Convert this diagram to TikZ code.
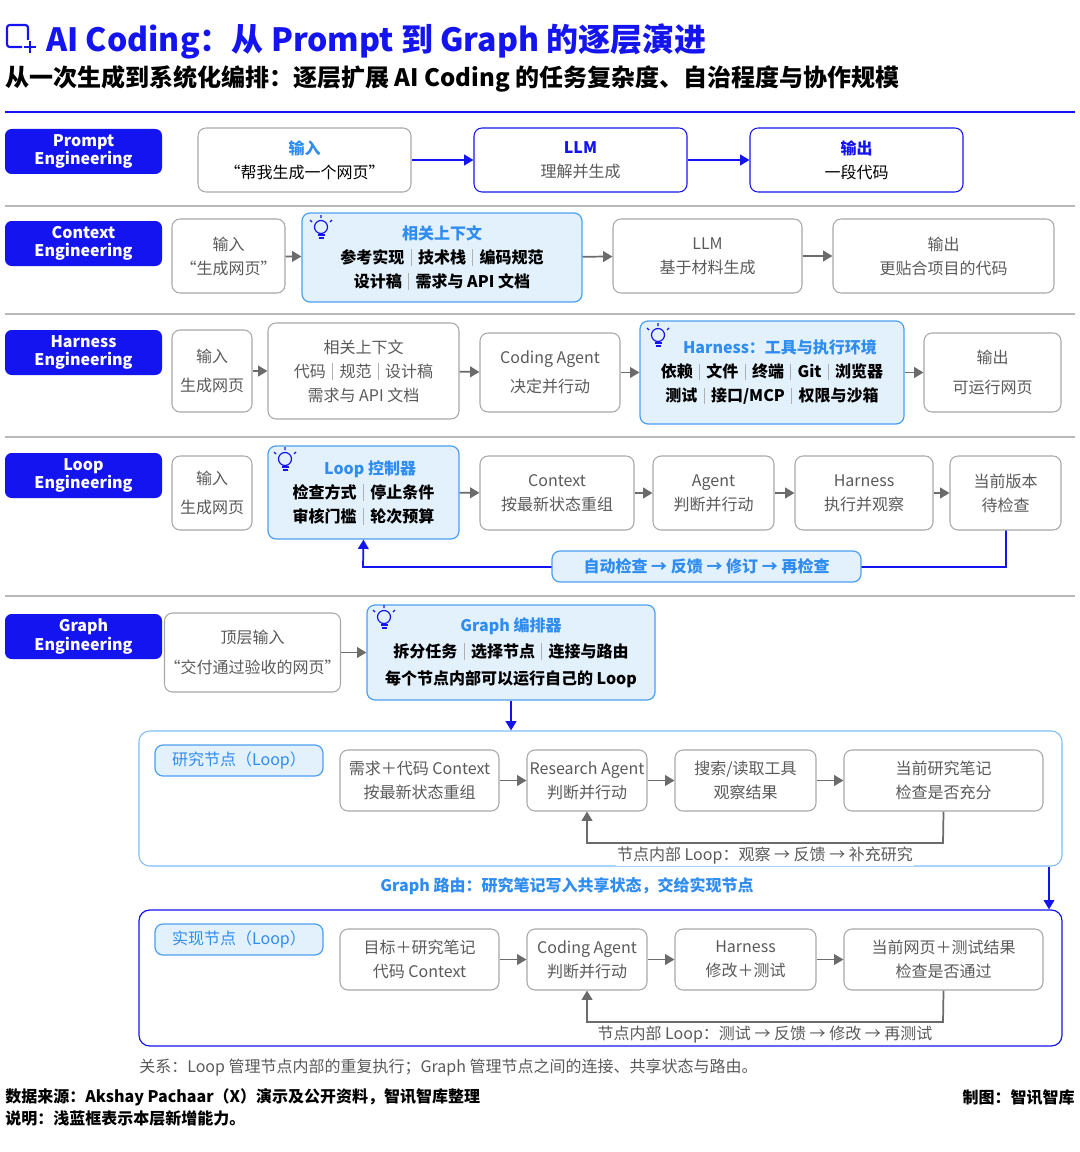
\documentclass[tikz,border=0pt]{standalone}
\usepackage{fontspec}
\setmainfont{Noto Sans CJK SC}
\usetikzlibrary{arrows.meta}
\definecolor{tblue}{HTML}{1414F0}
\definecolor{lblue}{HTML}{2F8CF0}
\definecolor{lfill}{HTML}{E3F1FD}
\definecolor{lbord}{HTML}{4A9FF2}
\definecolor{gbord}{HTML}{A8A8A8}
\definecolor{gtext}{HTML}{5A5A5A}
\definecolor{sepc}{HTML}{B0B0B0}
\newcommand{\sepbar}{\hspace{0.4em}{\color{sepc}\rule[-0.15em]{0.6pt}{1.05em}}\hspace{0.4em}}
\newcommand{\fs}[1]{\fontsize{#1pt}{\fpeval{#1*1.5}pt}\selectfont}
\tikzset{
 mw/.style={minimum width=#1*0.75pt},
 mh/.style={minimum height=#1*0.75pt},
 lab/.style={fill=tblue,rounded corners=5pt,text=white,align=center,font=\fs{12}\bfseries,inner sep=0pt,mw=157,mh=45},
 gbox/.style={draw=gbord,line width=0.8pt,rounded corners=6pt,fill=white,align=center,text=gtext,font=\fs{12},inner sep=0pt},
 wbox/.style={draw=tblue,line width=0.8pt,rounded corners=6pt,fill=white,align=center,text=gtext,font=\fs{12},inner sep=0pt},
 lbox/.style={draw=lbord,line width=0.9pt,rounded corners=6pt,fill=lfill,align=center,text=black,font=\fs{12}\bfseries,inner sep=0pt},
 garr/.style={draw=gtext!90,line width=1.3pt,-{Triangle[length=7pt,width=8pt]}},
 barr/.style={draw=tblue,line width=1.3pt,-{Triangle[length=7pt,width=8pt]}},
 sepl/.style={draw=gbord!80,line width=0.8pt},
 pics/bulb/.style={code={
   \draw[tblue,line width=0.9pt] (0,-3) circle (6.5);
   \draw[tblue,line width=0.9pt] (-3.5,5) -- (3.5,5) (-2.5,8) -- (2.5,8);
   \draw[tblue,line width=0.9pt] (0,-12) -- (0,-15) (-9,-8)--(-11,-10) (9,-8)--(11,-10);
 }}
}
\begin{document}
\begin{tikzpicture}[x=0.75pt,y=-0.75pt]
\useasboundingbox (0,0) rectangle (1080,1152);
% title
\draw[tblue,line width=1.6pt,rounded corners=2pt] (28,40) -- (28,25) -- (7,25) -- (7,47) -- (22,47);
\draw[tblue,line width=1pt] (30,41)--(30,53) (24,47)--(36,47);
\node[anchor=west,text=tblue,font=\fs{24}\bfseries,inner sep=0] (title) at (46,41) {AI Coding：从 Prompt 到 Graph 的逐层演进};
\node[anchor=west,text=black,font=\fs{18}\bfseries,inner sep=0] (sub) at (5,79) {从一次生成到系统化编排：逐层扩展 AI Coding 的任务复杂度、自治程度与协作规模};
\draw[tblue,line width=1.2pt] (5,112) -- (1075,112);
\foreach \yy in {206,314,437,596} \draw[sepl] (5,\yy) -- (1075,\yy);
% Row 1
\node[lab] (l1) at (83.5,151.5) {Prompt\\[-4pt]Engineering};
\node[gbox,mw=213,mh=64] (r1a) at (304.5,160) {{\color{lblue}\bfseries 输入}\\{\color{black}“帮我生成一个网页”}};
\node[wbox,mw=213,mh=64] (r1b) at (580.5,160) {{\color{tblue}\bfseries LLM}\\理解并生成};
\node[wbox,mw=213,mh=64] (r1c) at (856.5,160) {{\color{tblue}\bfseries 输出}\\{\color{black}一段代码}};
\draw[barr] (r1a) -- (r1b); \draw[barr] (r1b) -- (r1c);
% Row 2
\node[lab] (l2) at (83.5,243.5) {Context\\[-4pt]Engineering};
\node[gbox,mw=113,mh=74] (r2a) at (228.5,256) {输入\\“生成网页”};
\node[lbox,mw=280,mh=89] (r2b) at (442,257.5) {{\color{lblue}相关上下文}\\参考实现\sepbar 技术栈\sepbar 编码规范\\设计稿\sepbar 需求与 API 文档};
\pic at (321,230) {bulb};
\node[gbox,mw=189,mh=74] (r2c) at (707.5,256) {LLM\\基于材料生成};
\node[gbox,mw=221,mh=74] (r2d) at (943.5,256) {输出\\更贴合项目的代码};
\draw[garr] (r2a) -- (r2b); \draw[garr] (r2b) -- (r2c); \draw[garr] (r2c) -- (r2d);
% Row 3
\node[lab] (l3) at (83.5,352.5) {Harness\\[-4pt]Engineering};
\node[gbox,mw=80,mh=82] (r3a) at (212,371) {输入\\[4pt]生成网页};
\node[gbox,mw=191,mh=96] (r3b) at (363.5,371) {相关上下文\\代码\sepbar 规范\sepbar 设计稿\\需求与 API 文档};
\node[gbox,mw=140,mh=79] (r3c) at (550,372.5) {Coding Agent\\[4pt]决定并行动};
\node[lbox,mw=264,mh=103] (r3d) at (772,372.5) {\hspace*{12pt}{\color{lblue}Harness：工具与执行环境}\\依赖\sepbar 文件\sepbar 终端\sepbar Git\sepbar 浏览器\\测试\sepbar 接口/MCP\sepbar 权限与沙箱};
\pic at (658,338) {bulb};
\node[gbox,mw=137,mh=79] (r3e) at (992.5,372.5) {输出\\[4pt]可运行网页};
\draw[garr] (r3a) -- (r3b); \draw[garr] (r3b) -- (r3c); \draw[garr] (r3c) -- (r3d); \draw[garr] (r3d) -- (r3e);
% Row 4
\node[lab] (l4) at (83.5,475.5) {Loop\\[-4pt]Engineering};
\node[gbox,mw=80,mh=74] (r4a) at (212,493) {输入\\[4pt]生成网页};
\node[lbox,mw=191,mh=93] (r4b) at (363.5,492.5) {\hspace*{10pt}{\color{lblue}Loop 控制器}\\检查方式\sepbar 停止条件\\审核门槛\sepbar 轮次预算};
\pic at (285,462) {bulb};
\node[gbox,mw=154,mh=74] (r4c) at (557,493) {Context\\按最新状态重组};
\node[gbox,mw=121,mh=74] (r4d) at (713.5,493) {Agent\\判断并行动};
\node[gbox,mw=138,mh=74] (r4e) at (864,493) {Harness\\执行并观察};
\node[gbox,mw=111,mh=74] (r4f) at (1005.5,493) {当前版本\\待检查};
\draw[garr] (r4b) -- (r4c); \draw[garr] (r4c) -- (r4d); \draw[garr] (r4d) -- (r4e); \draw[garr] (r4e) -- (r4f);
\coordinate (f4) at (1006,567);
\draw[barr] (r4f.south -| f4) -- (f4) -- (363,567) -- (r4b.south);
\node[lbox,text=lblue,mw=309,mh=31] (r4l) at (706.5,566.5) {自动检查 → 反馈 → 修订 → 再检查};
% Row 5
\node[lab] (l5) at (83.5,636.5) {Graph\\[-4pt]Engineering};
\node[gbox,mw=161,mh=79] (r5a) at (252.5,652.5) {顶层输入\\[4pt]“交付通过验收的网页”};
\node[lbox,mw=288,mh=95] (r5b) at (511,652.5) {{\color{lblue}Graph 编排器}\\[2pt]拆分任务\sepbar 选择节点\sepbar 连接与路由\\[2pt]每个节点内部可以运行自己的 Loop};
\pic at (384,620) {bulb};
\draw[garr] (r5a) -- (r5b);
% research container
\node[draw=lbord!70,line width=0.8pt,rounded corners=8pt,mw=923,mh=135,inner sep=0] (rc) at (600.5,798.5) {};
\draw[barr] (r5b.south) -- (rc.north -| r5b.south);
\node[lbox,font=\fs{12},text=lblue,mw=168,mh=31] (rt) at (239,760.5) {研究节点（Loop）};
\node[gbox,mw=159,mh=61] (ra) at (419.5,780.5) {需求＋代码 Context\\按最新状态重组};
\node[gbox,mw=120,mh=61] (rb) at (587,780.5) {Research Agent\\判断并行动};
\node[gbox,mw=141,mh=61] (rcx) at (745.5,780.5) {搜索/读取工具\\观察结果};
\node[gbox,mw=199,mh=61] (rd) at (943.5,780.5) {当前研究笔记\\检查是否充分};
\draw[garr] (ra) -- (rb); \draw[garr] (rb) -- (rcx); \draw[garr] (rcx) -- (rd);
\coordinate (rf) at (943,843);
\draw[garr] (rd.south) -- (rf) -- (587,843) -- (rb.south);
\node[fill=white,text=gtext,font=\fs{12},inner sep=1pt] (rl) at (765,856) {节点内部 Loop：观察 → 反馈 → 补充研究};
\node[text=lblue,font=\fs{12}\bfseries,inner sep=0] (route) at (567,886) {Graph 路由：研究笔记写入共享状态，交给实现节点};
% implementation container
\node[draw=tblue,line width=0.9pt,rounded corners=8pt,mw=923,mh=136,inner sep=0] (ic) at (600.5,978) {};
\coordinate (dn) at (1049,0);
\draw[barr] (rc.south -| dn) -- (ic.north -| dn);
\node[lbox,font=\fs{12},text=lblue,mw=168,mh=31] (it) at (239,939.5) {实现节点（Loop）};
\node[gbox,mw=159,mh=61] (ia) at (419.5,959.5) {目标＋研究笔记\\代码 Context};
\node[gbox,mw=120,mh=61] (ib) at (587,959.5) {Coding Agent\\判断并行动};
\node[gbox,mw=141,mh=61] (icx) at (745.5,959.5) {Harness\\修改＋测试};
\node[gbox,mw=199,mh=61] (id) at (943.5,959.5) {当前网页＋测试结果\\检查是否通过};
\draw[garr] (ia) -- (ib); \draw[garr] (ib) -- (icx); \draw[garr] (icx) -- (id);
\coordinate (if) at (943,1022);
\draw[garr] (id.south) -- (if) -- (587,1022) -- (ib.south);
\node[fill=white,text=gtext,font=\fs{12},inner sep=1pt] (il) at (765,1035) {节点内部 Loop：测试 → 反馈 → 修改 → 再测试};
% notes
\node[anchor=west,text=gtext,font=\fs{12},inner sep=0] (rel) at (139,1068) {关系：Loop 管理节点内部的重复执行；Graph 管理节点之间的连接、共享状态与路由。};
\node[anchor=west,text=black,font=\fs{12}\bfseries,inner sep=0] (src) at (5,1097) {数据来源：Akshay Pachaar（X）演示及公开资料，智讯智库整理};
\node[anchor=west,text=black,font=\fs{12}\bfseries,inner sep=0] (note) at (5,1118) {说明：浅蓝框表示本层新增能力。};
\node[anchor=east,text=black,font=\fs{12}\bfseries,inner sep=0] (mk) at (1075,1097) {制图：智讯智库};
\end{tikzpicture}
\end{document}
